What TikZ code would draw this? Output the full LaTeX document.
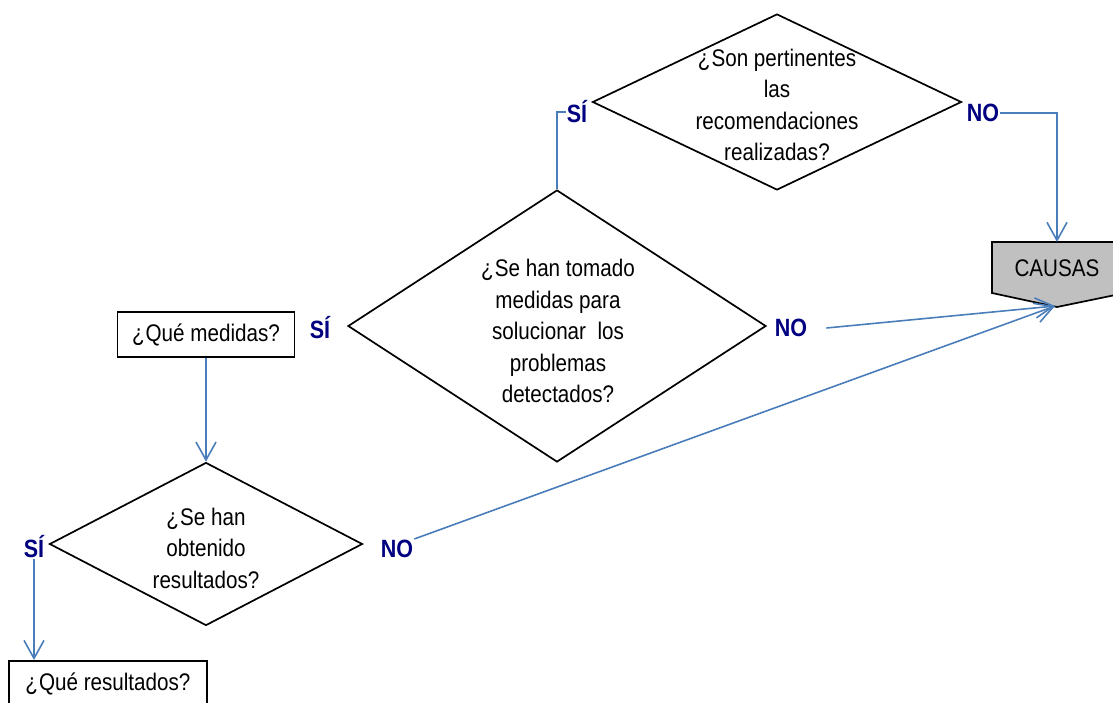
\documentclass[tikz,border=0pt]{standalone}
\usepackage{fontspec}
\setmainfont{Liberation Sans}[FakeStretch=0.86]
\usetikzlibrary{shapes.geometric,arrows.meta,positioning}
\definecolor{linkblue}{RGB}{74,126,187}
\definecolor{answer}{RGB}{0,0,128}
\definecolor{causasgray}{RGB}{192,192,192}
\newcommand{\inq}{¿\kern1pt}

\begin{document}
\begin{tikzpicture}[
    x=1pt, y=-1pt,
    question/.style={diamond, draw, line width=1.7pt, inner sep=0pt},
    qtext/.style={align=center, font=\fontsize{24}{31.5}\selectfont},
    answerbox/.style={rectangle, draw, line width=1.9pt, minimum height=45pt, font=\fontsize{24}{28}\selectfont},
    reply/.style={font=\bfseries\fontsize{25}{28}\selectfont, text=answer, inner sep=1pt},
    link/.style={draw=linkblue, line width=1.6pt},
    flow/.style={link, -{Straight Barb[length=18pt, width=20pt]}},
    ]
    \useasboundingbox (0,0) rectangle (1113,702);
    \clip (0,0) rectangle (1113,702);

    % decisions
    \node[question, minimum width=369pt, minimum height=176pt] (pertinentes) at (777,102) {};
    \node[qtext] (pertinentestext) at (777,105) {\inq Son pertinentes\\las\\recomendaciones\\realizadas?};
    \node[question, minimum width=418pt, minimum height=272pt] (medidas) at (557,326) {};
    \node[qtext] (medidastext) at (558,331) {\inq Se han tomado\\medidas para\\solucionar\ \ los\\problemas\\detectados?};
    \node[question, minimum width=313pt, minimum height=163pt] (resultados) at (206,544) {};
    \node[qtext] (resultadostext) at (206,548) {\inq Se han\\obtenido\\resultados?};

    % boxes
    \node[answerbox, minimum width=177pt] (quemedidas) at (206,334.5) {\inq Qué medidas?};
    \node[answerbox, minimum width=198pt, anchor=north west] (queresultados) at (8,660) {\inq Qué resultados?};

    % end point
    \filldraw[fill=causasgray, line width=1.7pt] (992,242) -- (1125,242) -- (1125,293) -- (1057,307) -- (992,293) -- cycle;
    \node[font=\fontsize{24}{28}\selectfont] (causas) at (1057,268) {CAUSAS};
    \coordinate (causastop) at (1057,242);
    \coordinate (causastip) at (1055,306);

    % answers
    \node[reply] (si1) at (577,112) {SÍ};
    \node[reply] (no1) at (983,113) {NO};
    \node[reply] (si2) at (320,328) {SÍ};
    \node[reply] (no2) at (791,328) {NO};
    \node[reply] (si3) at (34,547) {SÍ};
    \node[reply] (no3) at (397,549) {NO};

    % connectors
    \draw[link] (medidas.north) |- (si1.west);
    \draw[flow] (no1.east) -| (causastop);
    \draw[flow] ([xshift=18pt]no2.east) -- (causastip);
    \draw[flow] (quemedidas.south) -- (resultados.north);
    \draw[flow] (no3.north east) -- (causastip);
    \draw[flow] (si3.south) -- (si3.south |- queresultados.north);

  \end{tikzpicture}
\end{document}
